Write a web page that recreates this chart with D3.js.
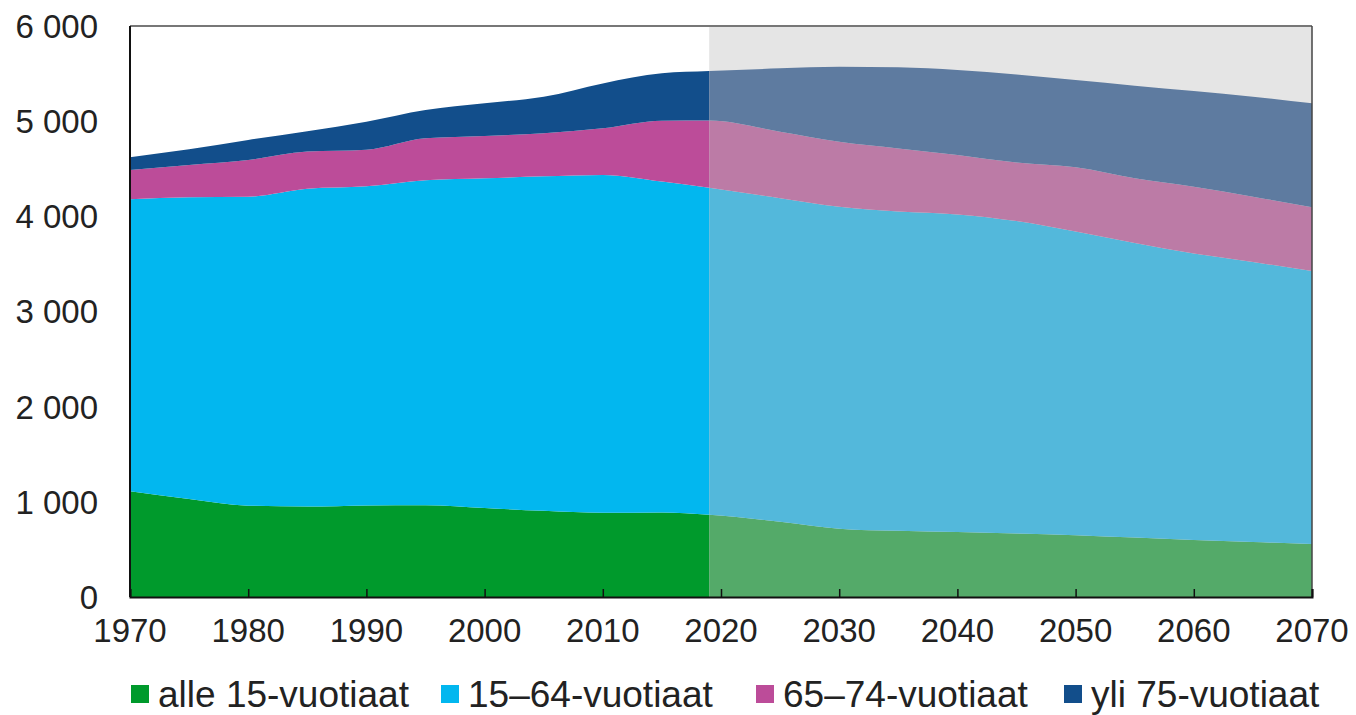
<!DOCTYPE html>
<html>
<head>
<meta charset="utf-8">
<script src="https://cdn.jsdelivr.net/npm/d3@7"></script>
<style>
  body { margin: 0; background: #fff; }
  svg { display: block; font-family: "Liberation Sans", Arial, sans-serif; }
</style>
</head>
<body>
<div id="chart"></div>
<script>
// data (thousands of persons)
const years = [1970, 1975, 1980, 1985, 1990, 1995, 2000, 2005, 2010, 2015, 2019,
               2025, 2030, 2035, 2040, 2045, 2050, 2055, 2060, 2065, 2070];
const under15 = [1110, 1030, 960, 950, 962, 965, 935, 905, 885, 888, 865,
                 790, 718, 695, 682, 668, 650, 625, 600, 578, 558];
const age15to64 = [3070, 3170, 3246, 3340, 3353, 3415, 3465, 3515, 3550, 3477, 3435,
                   3400, 3382, 3355, 3338, 3282, 3190, 3095, 3010, 2942, 2867];
const age65to74 = [307, 340, 386, 390, 385, 440, 444, 452, 490, 640, 708,
                   700, 684, 664, 624, 615, 675, 680, 701, 686, 670];
const over75 = [133, 164, 210, 215, 294, 297, 343, 385, 472, 498, 518,
                665, 788, 852, 893, 925, 918, 973, 1006, 1051, 1092];
const seriesNames = ["alle 15-vuotiaat", "15\u201364-vuotiaat", "65\u201374-vuotiaat", "yli 75-vuotiaat"];
const histColors = ["#009a2c", "#02b7ef", "#bc4c99", "#124e8b"];
const projColors = ["#54aa69", "#53b8db", "#bc7ba6", "#5e7ba0"];
const projStart = 2019;
const xTicks = [1970, 1980, 1990, 2000, 2010, 2020, 2030, 2040, 2050, 2060, 2070];
const yTicks = [0, 1000, 2000, 3000, 4000, 5000, 6000];

const width = 1356, height = 715;
const margin = {top: 26, right: 44, bottom: 118, left: 130};
const innerW = width - margin.left - margin.right;
const innerH = height - margin.top - margin.bottom;

const rows = years.map((y, i) => ({
  year: y, s0: under15[i], s1: age15to64[i], s2: age65to74[i], s3: over75[i]
}));
const keys = ["s0", "s1", "s2", "s3"];
const stacked = d3.stack().keys(keys)(rows);

const x = d3.scaleLinear().domain([1970, 2070]).range([0, innerW]);
const y = d3.scaleLinear().domain([0, 6000]).range([innerH, 0]);

const svg = d3.select("#chart")
  .append("svg")
    .attr("width", width)
    .attr("height", height);

const defs = svg.append("defs");
defs.append("clipPath").attr("id", "clipHist")
  .append("rect")
    .attr("x", 0).attr("y", 0)
    .attr("width", x(projStart)).attr("height", innerH);
defs.append("clipPath").attr("id", "clipProj")
  .append("rect")
    .attr("x", x(projStart)).attr("y", 0)
    .attr("width", innerW - x(projStart)).attr("height", innerH);

const g = svg.append("g").attr("transform", `translate(${margin.left},${margin.top})`);

// projection background
g.append("rect")
  .attr("x", x(projStart)).attr("y", 0)
  .attr("width", innerW - x(projStart)).attr("height", innerH)
  .attr("fill", "#e5e5e5");

const area = d3.area()
  .x(d => x(d.data.year))
  .y0(d => y(d[0]))
  .y1(d => y(d[1]))
  .curve(d3.curveMonotoneX);

g.append("g").attr("clip-path", "url(#clipHist)")
  .selectAll("path")
  .data(stacked)
  .join("path")
    .attr("d", area)
    .attr("fill", (d, i) => histColors[i]);

g.append("g").attr("clip-path", "url(#clipProj)")
  .selectAll("path")
  .data(stacked)
  .join("path")
    .attr("d", area)
    .attr("fill", (d, i) => projColors[i]);

// frame
g.append("line").attr("x1", 0).attr("x2", innerW).attr("y1", 0).attr("y2", 0)
  .attr("stroke", "#777").attr("stroke-width", 2);
g.append("line").attr("x1", innerW).attr("x2", innerW).attr("y1", 0).attr("y2", innerH)
  .attr("stroke", "#444").attr("stroke-width", 1.5);

// x axis, ticks pointing inward
const xAxis = g.append("g")
  .attr("transform", `translate(0,${innerH})`)
  .call(d3.axisTop(x).tickValues(xTicks).tickSize(8).tickFormat(""));
xAxis.select(".domain").attr("stroke", "#111").attr("stroke-width", 2);
xAxis.selectAll(".tick line").attr("stroke", "#111").attr("stroke-width", 1.5);

g.append("g")
  .selectAll("text")
  .data(xTicks)
  .join("text")
    .attr("x", d => x(d))
    .attr("y", innerH + 45)
    .attr("text-anchor", "middle")
    .attr("font-size", 33)
    .attr("fill", "#222")
    .text(d => d);

// y axis
g.append("line").attr("x1", 0).attr("x2", 0).attr("y1", 0).attr("y2", innerH)
  .attr("stroke", "#111").attr("stroke-width", 2);

const fmt = v => d3.format(",")(v).replace(/,/g, " ");
g.append("g")
  .selectAll("text")
  .data(yTicks)
  .join("text")
    .attr("x", -32)
    .attr("y", d => y(d))
    .attr("dy", "0.36em")
    .attr("text-anchor", "end")
    .attr("font-size", 33)
    .attr("fill", "#222")
    .text(fmt);

// legend
const legendX = [131, 441, 756, 1064];
const legend = svg.append("g").attr("transform", "translate(0,685)");
seriesNames.forEach((name, i) => {
  const item = legend.append("g").attr("transform", `translate(${legendX[i]},0)`);
  item.append("rect")
    .attr("width", 18).attr("height", 18)
    .attr("fill", histColors[i]);
  item.append("text")
    .attr("x", 27)
    .attr("y", 22)
    .attr("font-size", 37)
    .attr("fill", "#222")
    .text(name);
});
</script>
</body>
</html>
